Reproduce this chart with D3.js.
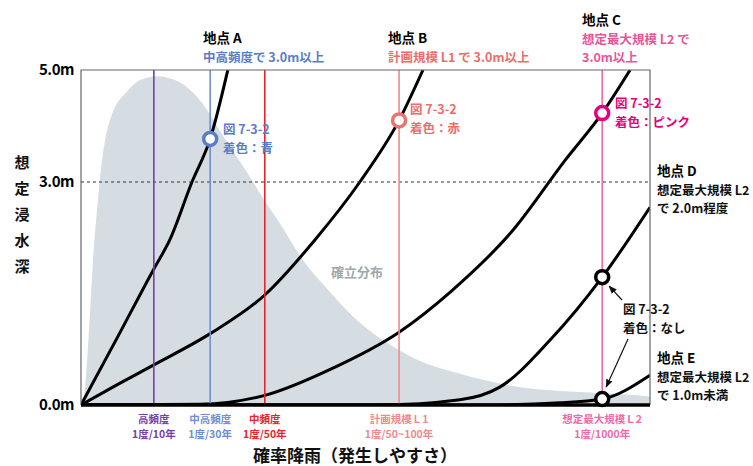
<!DOCTYPE html>
<html>
<head>
<meta charset="utf-8">
<script src="https://cdn.jsdelivr.net/npm/d3@7"></script>
<style>
body { margin: 0; background: #fff; }
text { font-family: "Noto Sans CJK JP", "Noto Sans", sans-serif; }
</style>
</head>
<body>
<div id="chart"></div>
<script>
var svgWidth = 753;
var svgHeight = 466;

// x: abstract "ease of occurrence" 0..100, y: depth in m
var depthTicks = [0, 3, 5];
var markerNames = ["高頻度", "中高頻度", "中頻度", "計画規模Ｌ1", "想定最大規模Ｌ2"];
var markerFreq = ["1度/10年", "1度/30年", "1度/50年", "1度/50~100年", "1度/1000年"];
var markerX = [12.8, 22.7, 32.3, 55.9, 91.6];
var markerColors = ["#7a3ea8", "#6f8fd2", "#e8242b", "#f08a8a", "#f06aa8"];

var curveA = [[0, 0], [6.4, 0.91], [12.8, 1.83], [15.6, 2.22], [19.5, 3.0], [22.7, 3.77], [25.8, 5.0]];
var curveB = [[0, 0], [6.3, 0.27], [12.8, 0.54], [22.7, 0.96], [32.3, 1.48], [41.1, 2.22], [49.0, 3.0], [55.9, 4.1], [60.1, 5.0]];
var curveC = [[0, 0], [20.9, 0.01], [32.3, 0.13], [43.8, 0.48], [55.9, 0.98], [64.9, 1.52], [75.9, 2.35], [85.1, 3.39], [91.6, 4.23], [96.5, 5.0]];
var curveD = [[0, 0], [52.5, 0], [66.6, 0.07], [73.6, 0.24], [82.4, 0.87], [91.6, 1.72], [100, 2.66]];
var curveE = [[0, 0], [70.1, 0], [84.2, 0.03], [91.6, 0.08], [100, 0.4]];

var distribution = [[0, 0], [0.2, 0], [2.5, 2.35], [3.7, 3.39], [5.1, 4.11], [8.3, 4.64], [10.4, 4.82], [13.4, 4.89],
	[16.5, 4.82], [18.8, 4.68], [20.9, 4.46], [25.3, 3.77], [29.7, 3.09], [32.0, 2.78], [35.0, 2.44], [39.0, 1.95],
	[43.4, 1.55], [48.5, 1.14], [53.1, 0.87], [59.1, 0.61], [66.6, 0.42], [77.2, 0.24], [91.2, 0.16], [100, 0.11], [100, 0]];

var pointA = [22.7, 3.77];
var pointB = [55.9, 4.1];
var pointC = [91.6, 4.23];
var pointD = [91.6, 1.72];
var pointE = [91.6, 0.08];

var margin = { top: 70, right: 103, bottom: 61, left: 81 };
var width = svgWidth - margin.left - margin.right;
var height = svgHeight - margin.top - margin.bottom;

var svg = d3.select("#chart")
	.append("svg")
	.attr("width", svgWidth)
	.attr("height", svgHeight);

var defs = svg.append("defs");
defs.append("clipPath").attr("id", "plotClip")
	.append("rect").attr("x", 0).attr("y", 0).attr("width", width).attr("height", height);
defs.append("marker").attr("id", "arrow")
	.attr("viewBox", "0 0 10 10").attr("refX", 9).attr("refY", 5)
	.attr("markerWidth", 7).attr("markerHeight", 7).attr("orient", "auto")
	.append("path").attr("d", "M0,1 L10,5 L0,9 Z").attr("fill", "#111");

var chartGroup = svg.append("g")
	.attr("transform", `translate(${margin.left}, ${margin.top})`);

var xScale = d3.scaleLinear().domain([0, 100]).range([0, width]);
// the picture stretches 0-3m more than 3-5m
var yScale = d3.scaleLinear().domain([0, 3, 5]).range([height, 112, 0]);

var plot = chartGroup.append("g").attr("clip-path", "url(#plotClip)");

// distribution
var area = d3.area()
	.x(d => xScale(d[0]))
	.y0(height)
	.y1(d => yScale(d[1]))
	.curve(d3.curveMonotoneX);
plot.append("path")
	.datum(distribution)
	.attr("d", area)
	.attr("fill", "#d5dde2");

chartGroup.append("text")
	.attr("x", xScale(48.5))
	.attr("y", yScale(1.77))
	.attr("text-anchor", "middle")
	.attr("dominant-baseline", "middle")
	.attr("font-size", 13)
	.attr("font-weight", "bold")
	.attr("fill", "#a0a8ad")
	.text("確立分布");

// 3.0m dashed line
chartGroup.append("line")
	.attr("x1", 0).attr("x2", width)
	.attr("y1", yScale(3)).attr("y2", yScale(3))
	.attr("stroke", "#333").attr("stroke-width", 1.2)
	.attr("stroke-dasharray", "3,3");

// frequency marker lines
markerX.forEach(function(mx, i) {
	chartGroup.append("line")
		.attr("x1", xScale(mx)).attr("x2", xScale(mx))
		.attr("y1", 0).attr("y2", height)
		.attr("stroke", markerColors[i])
		.attr("stroke-width", 1.6);
});

// depth curves
var line = d3.line()
	.x(d => xScale(d[0]))
	.y(d => yScale(d[1]))
	.curve(d3.curveMonotoneX);
[curveA, curveB, curveC, curveD, curveE].forEach(function(c) {
	plot.append("path")
		.datum(c)
		.attr("d", line)
		.attr("fill", "none")
		.attr("stroke", "#000")
		.attr("stroke-width", 3);
});

// frame
chartGroup.append("path")
	.attr("d", `M0,${height} V0 H${width} V${height}`)
	.attr("fill", "none")
	.attr("stroke", "#666")
	.attr("stroke-width", 1.2);
chartGroup.append("line")
	.attr("x1", 0).attr("x2", width)
	.attr("y1", height).attr("y2", height)
	.attr("stroke", "#000").attr("stroke-width", 3.5);

// points
var points = [[pointA, "#5b7cc6"], [pointB, "#ea7370"], [pointC, "#e5007f"], [pointD, "#000"], [pointE, "#000"]];
points.forEach(function(p) {
	chartGroup.append("circle")
		.attr("cx", xScale(p[0][0]))
		.attr("cy", yScale(p[0][1]))
		.attr("r", 6.5)
		.attr("fill", "#fff")
		.attr("stroke", p[1])
		.attr("stroke-width", 3.5);
});

// y axis
var leftAxis = d3.axisLeft(yScale)
	.tickValues(depthTicks)
	.tickSize(0)
	.tickPadding(7)
	.tickFormat(d => d.toFixed(1) + "m");
var yAxis = chartGroup.append("g").call(leftAxis);
yAxis.select(".domain").remove();
yAxis.selectAll("text")
	.attr("font-size", 15)
	.attr("font-weight", "bold")
	.attr("fill", "#000")
	.style("font-family", "'Noto Sans CJK JP', sans-serif")
	.style("letter-spacing", "-0.5px");

// y title vertical
var yTitle = "想定浸水深".split("");
yTitle.forEach(function(ch, i) {
	svg.append("text")
		.attr("x", 22)
		.attr("y", 164 + i * 26)
		.attr("text-anchor", "middle")
		.attr("dominant-baseline", "middle")
		.attr("font-size", 15)
		.attr("font-weight", "bold")
		.attr("fill", "#111")
		.text(ch);
});

// bottom tick labels
markerX.forEach(function(mx, i) {
	var g = chartGroup.append("g")
		.attr("transform", `translate(${xScale(mx)}, ${height})`);
	g.append("text")
		.attr("y", 15)
		.attr("text-anchor", "middle")
		.attr("dominant-baseline", "middle")
		.attr("font-size", 10.5)
		.attr("font-weight", "bold")
		.attr("fill", markerColors[i])
		.text(markerNames[i]);
	g.append("text")
		.attr("y", 30.5)
		.attr("text-anchor", "middle")
		.attr("dominant-baseline", "middle")
		.attr("font-size", 10.5)
		.attr("font-weight", "bold")
		.attr("fill", markerColors[i])
		.text(markerFreq[i]);
});

svg.append("text")
	.attr("x", 355)
	.attr("y", 457)
	.attr("text-anchor", "middle")
	.attr("dominant-baseline", "middle")
	.attr("font-size", 17)
	.attr("font-weight", "bold")
	.attr("fill", "#111")
	.text("確率降雨（発生しやすさ）");

// annotations
function label(x, y, lines, color, size, gap) {
	lines.forEach(function(t, i) {
		svg.append("text")
			.attr("x", x)
			.attr("y", y + i * gap)
			.attr("dominant-baseline", "middle")
			.attr("font-size", size)
			.attr("font-weight", "bold")
			.attr("fill", color)
			.text(t);
	});
}

label(203, 39, ["地点 A"], "#000", 13.5, 0);
label(203, 58.5, ["中高頻度で 3.0m以上"], "#5b7cc6", 12.5, 0);
label(388, 39, ["地点 B"], "#000", 13.5, 0);
label(388, 58.5, ["計画規模 L1 で 3.0m以上"], "#ea6e6a", 12.5, 0);
label(582, 21, ["地点 C"], "#000", 13.5, 0);
label(582, 40.5, ["想定最大規模 L2 で", "3.0m以上"], "#e8559a", 12.5, 18.5);
label(657, 172, ["地点 D"], "#000", 13.5, 0);
label(657, 191.5, ["想定最大規模 L2", "で 2.0m程度"], "#111", 12.5, 18.5);
label(657, 359, ["地点 E"], "#000", 13.5, 0);
label(657, 378.5, ["想定最大規模 L2", "で 1.0m未満"], "#111", 12.5, 18.5);

label(223, 131, ["図 7-3-2", "着色：青"], "#5b7cc6", 12.5, 18.5);
label(410, 111, ["図 7-3-2", "着色：赤"], "#ea6e6a", 12.5, 18.5);
label(615, 105, ["図 7-3-2", "着色：ピンク"], "#e5007f", 12.5, 18.5);
label(623, 311, ["図 7-3-2", "着色：なし"], "#111", 12.5, 18.5);

// arrows to uncoloured points
svg.append("line")
	.attr("x1", 622).attr("y1", 300).attr("x2", margin.left + xScale(pointD[0]) + 7).attr("y2", margin.top + yScale(pointD[1]) + 9)
	.attr("stroke", "#111").attr("stroke-width", 1.2).attr("marker-end", "url(#arrow)");
svg.append("line")
	.attr("x1", 628).attr("y1", 339).attr("x2", margin.left + xScale(pointE[0]) + 4).attr("y2", margin.top + yScale(pointE[1]) - 12)
	.attr("stroke", "#111").attr("stroke-width", 1.2).attr("marker-end", "url(#arrow)");
</script>
</body>
</html>
